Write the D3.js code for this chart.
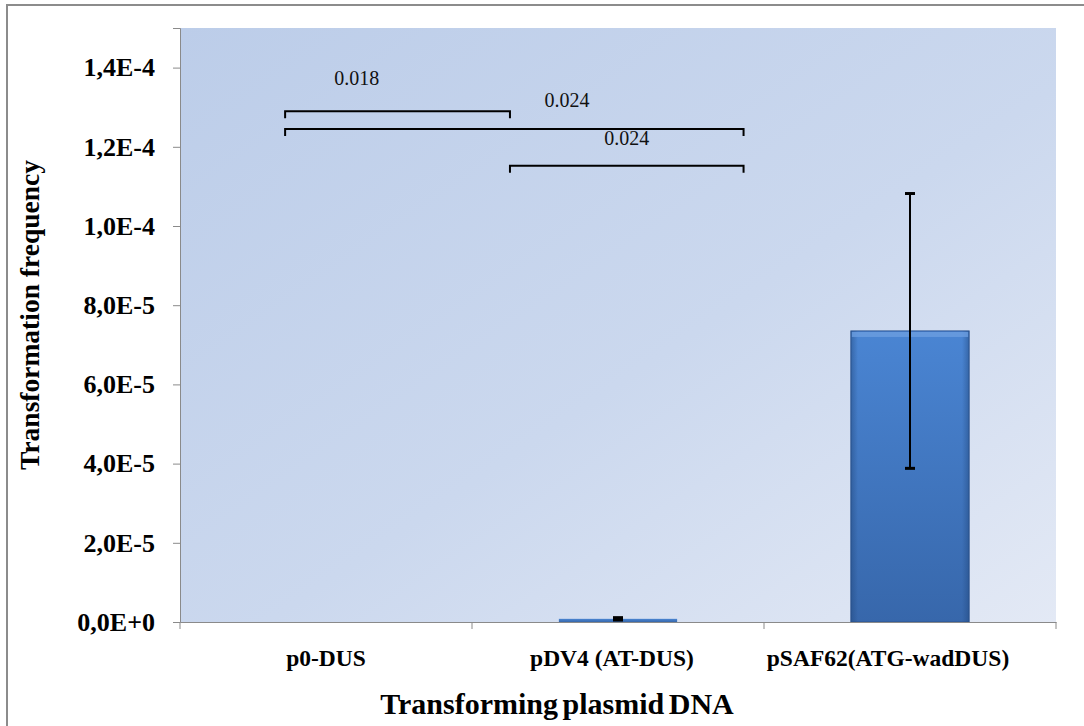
<!DOCTYPE html>
<html>
<head>
<meta charset="utf-8">
<script src="https://cdn.jsdelivr.net/npm/d3@7"></script>
<style>
  body { margin: 0; background: #fff; }
  svg { display: block; }
  text { font-family: "Liberation Serif", "Times New Roman", serif; }
</style>
</head>
<body>
<div id="chart"></div>
<script>
// chart data
var categories = ["p0-DUS", "pDV4 (AT-DUS)", "pSAF62(ATG-wadDUS)"];
var values = [0, 8e-7, 7.35e-5];
var errors = [0, 3e-7, 3.47e-5];
var yTicks = [0, 2e-5, 4e-5, 6e-5, 8e-5, 1e-4, 1.2e-4, 1.4e-4];
var yTickLabels = ["0,0E+0", "2,0E-5", "4,0E-5", "6,0E-5", "8,0E-5", "1,0E-4", "1,2E-4", "1,4E-4"];
// significance brackets: start/end in category units, level in data units
var bracketFrom = [-0.14, -0.14, 0.63];
var bracketTo = [0.63, 1.43, 1.43];
var bracketLevel = [1.29e-4, 1.245e-4, 1.152e-4];
var bracketText = ["0.018", "0.024", "0.024"];
var bracketTextAt = [0.105, 0.825, 1.03];
var bracketTextLevel = [1.355e-4, 1.3e-4, 1.205e-4];

var W = 1084, H = 726;
var margin = { top: 28, right: 28, bottom: 104, left: 180 },
    width = W - margin.left - margin.right,
    height = H - margin.top - margin.bottom;

var svg = d3.select("#chart")
    .append("svg")
    .attr("width", W)
    .attr("height", H);

var defs = svg.append("defs");
var bg = defs.append("linearGradient").attr("id", "bg")
    .attr("x1", "0%").attr("y1", "0%").attr("x2", "100%").attr("y2", "100%");
bg.append("stop").attr("offset", "0%").attr("stop-color", "#bccde9");
bg.append("stop").attr("offset", "55%").attr("stop-color", "#cbd8ee");
bg.append("stop").attr("offset", "100%").attr("stop-color", "#e3e9f5");

var barGrad = defs.append("linearGradient").attr("id", "barGrad")
    .attr("x1", "0%").attr("y1", "0%").attr("x2", "0%").attr("y2", "100%");
barGrad.append("stop").attr("offset", "0%").attr("stop-color", "#4a85d3");
barGrad.append("stop").attr("offset", "100%").attr("stop-color", "#3767ab");

var sideGrad = defs.append("linearGradient").attr("id", "sideGrad")
    .attr("x1", "0%").attr("y1", "0%").attr("x2", "100%").attr("y2", "0%");
sideGrad.append("stop").attr("offset", "0%").attr("stop-color", "#1f4478").attr("stop-opacity", 0.45);
sideGrad.append("stop").attr("offset", "6%").attr("stop-color", "#1f4478").attr("stop-opacity", 0);
sideGrad.append("stop").attr("offset", "94%").attr("stop-color", "#1f4478").attr("stop-opacity", 0);
sideGrad.append("stop").attr("offset", "100%").attr("stop-color", "#1f4478").attr("stop-opacity", 0.45);

// outer frame
svg.append("rect")
    .attr("x", 7).attr("y", 5)
    .attr("width", W).attr("height", H)
    .attr("fill", "#fff")
    .attr("stroke", "#8c8c8c")
    .attr("stroke-width", 2);

var g = svg.append("g")
    .attr("transform", "translate(" + margin.left + "," + margin.top + ")");

// scales
var x = d3.scaleBand()
    .domain(categories)
    .range([0, width])
    .padding(0);

var y = d3.scaleLinear()
    .domain([0, 1.5e-4])
    .range([height, 0]);

var band = x.bandwidth();
var barW = band * 0.405;
function cx(i) { return x(categories[0]) + band / 2 + i * band; }

// plot area
g.append("rect")
    .attr("width", width)
    .attr("height", height)
    .attr("fill", "url(#bg)");

// bars
var bars = g.selectAll(".bar")
    .data(categories)
    .enter()
    .append("g")
    .attr("class", "bar");

bars.append("rect")
    .attr("x", function (d) { return x(d) + (band - barW) / 2; })
    .attr("y", function (d, i) { return y(values[i]); })
    .attr("width", barW)
    .attr("height", function (d, i) { return height - y(values[i]); })
    .attr("fill", "url(#barGrad)")
    .attr("stroke", function (d, i) { return values[i] > 1e-5 ? "#2d5591" : "none"; })
    .attr("stroke-width", 1);

bars.filter(function (d, i) { return values[i] > 1e-5; })
    .append("rect")
    .attr("x", function (d) { return x(d) + (band - barW) / 2; })
    .attr("y", function (d) { return y(values[categories.indexOf(d)]); })
    .attr("width", barW)
    .attr("height", function (d) { return height - y(values[categories.indexOf(d)]); })
    .attr("fill", "url(#sideGrad)");

bars.filter(function (d, i) { return values[i] > 1e-5; })
    .append("rect")
    .attr("x", function (d) { return x(d) + (band - barW) / 2 + 1; })
    .attr("y", function (d) { return y(values[categories.indexOf(d)]) + 1; })
    .attr("width", barW - 2)
    .attr("height", 5)
    .attr("fill", "#6b9ee0")
    .attr("opacity", 0.8);

// error bars
var errs = g.selectAll(".err")
    .data(categories.filter(function (d, i) { return errors[i] > 0; }))
    .enter()
    .append("g")
    .attr("class", "err")
    .attr("stroke", "#000")
    .attr("stroke-width", 2);

errs.append("line")
    .attr("x1", function (d) { return x(d) + band / 2; })
    .attr("x2", function (d) { return x(d) + band / 2; })
    .attr("y1", function (d) { var i = categories.indexOf(d); return y(values[i] - errors[i]); })
    .attr("y2", function (d) { var i = categories.indexOf(d); return y(values[i] + errors[i]); });

errs.selectAll(".cap")
    .data(function (d) {
        var i = categories.indexOf(d);
        return [[d, values[i] - errors[i]], [d, values[i] + errors[i]]];
    })
    .enter()
    .append("line")
    .attr("x1", function (d) { return x(d[0]) + band / 2 - 5; })
    .attr("x2", function (d) { return x(d[0]) + band / 2 + 5; })
    .attr("y1", function (d) { return y(d[1]); })
    .attr("y2", function (d) { return y(d[1]); })
    .attr("stroke-width", 3);

// significance brackets
bracketText.forEach(function (t, k) {
    var x1 = cx(bracketFrom[k]), x2 = cx(bracketTo[k]), yy = y(bracketLevel[k]);
    g.append("path")
        .attr("d", "M" + x1 + "," + (yy + 7) + "V" + yy + "H" + x2 + "V" + (yy + 7))
        .attr("fill", "none")
        .attr("stroke", "#000")
        .attr("stroke-width", 2);
    g.append("text")
        .attr("x", cx(bracketTextAt[k]))
        .attr("y", y(bracketTextLevel[k]))
        .attr("text-anchor", "middle")
        .attr("font-size", "20px")
        .attr("fill", "#111")
        .text(t);
});

// axes
var yAxis = g.append("g")
    .call(d3.axisLeft(y)
        .tickValues(yTicks)
        .tickFormat(function (d, i) { return yTickLabels[i]; })
        .tickSize(7)
        .tickPadding(18));
yAxis.select(".domain").attr("stroke", "#8a8a8a");
yAxis.selectAll(".tick line").attr("stroke", "#8a8a8a");
yAxis.selectAll("text")
    .attr("font-family", "'Liberation Serif', 'Times New Roman', serif")
    .attr("font-size", "26px")
    .attr("font-weight", "bold")
    .attr("fill", "#000");

var xAxis = g.append("g")
    .attr("transform", "translate(0," + height + ")")
    .call(d3.axisBottom(x).tickSize(0).tickPadding(27));
xAxis.select(".domain").attr("stroke", "#8a8a8a");
// the last labels sit a little left of their band centre in the original
var labelShift = [0, -6, -22];
xAxis.selectAll("text")
    .attr("dx", function (d, i) { return labelShift[i]; })
    .attr("font-family", "'Liberation Serif', 'Times New Roman', serif")
    .attr("font-size", "23.5px")
    .attr("font-weight", "bold")
    .attr("fill", "#000");

// category separators on the x axis
xAxis.selectAll(".sep")
    .data(categories.concat([null]))
    .enter()
    .append("line")
    .attr("x1", function (d, i) { return i * band; })
    .attr("x2", function (d, i) { return i * band; })
    .attr("y1", 0)
    .attr("y2", 7)
    .attr("stroke", "#8a8a8a");

// axis titles
svg.append("text")
    .attr("transform", "translate(39," + 315 + ") rotate(-90)")
    .attr("text-anchor", "middle")
    .attr("font-size", "27.5px")
    .attr("font-weight", "bold")
    .text("Transformation frequency");

svg.append("text")
    .attr("x", 557)
    .attr("y", 714)
    .attr("text-anchor", "middle")
    .attr("font-size", "30px")
    .attr("font-weight", "bold")
    .attr("word-spacing", "-3px")
    .text("Transforming plasmid DNA");
</script>
</body>
</html>
